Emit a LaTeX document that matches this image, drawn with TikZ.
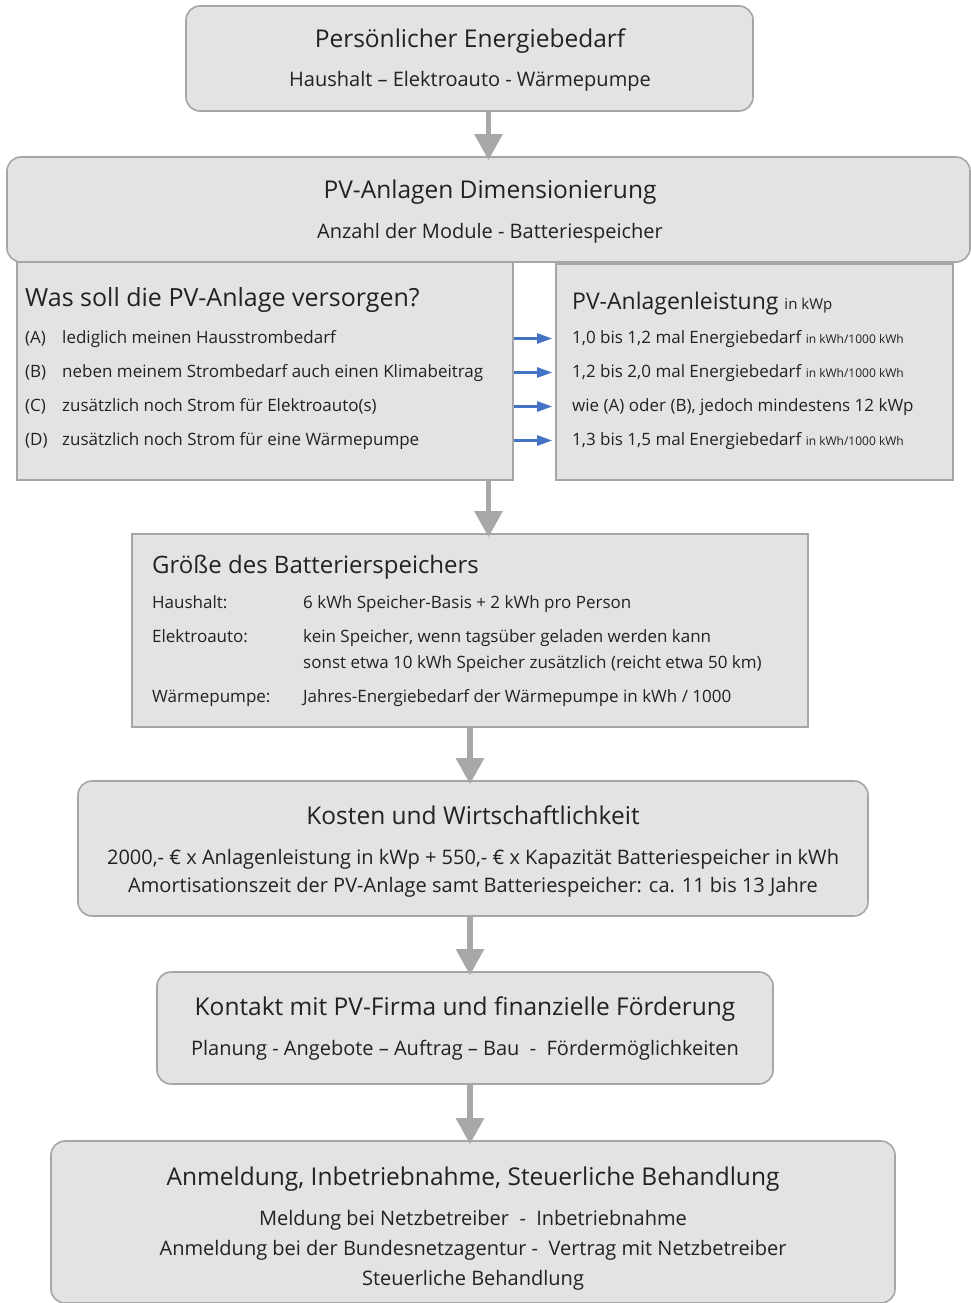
\documentclass[tikz,border=0pt]{standalone}
\usepackage{fontspec}
\setmainfont{Open Sans}
\usepackage{xcolor}
\definecolor{ink}{HTML}{222222}
\definecolor{boxFill}{HTML}{E3E3E3}
\definecolor{boxEdge}{HTML}{A6A6A6}
\definecolor{flowGray}{HTML}{A9A7A7}
\definecolor{flowBlue}{HTML}{4472C4}
\usetikzlibrary{arrows.meta, positioning}

\newcommand{\unitNote}[1]{{\fontsize{12}{14}\selectfont #1}}

\begin{document}
\begin{tikzpicture}[
  x=1pt, y=-1pt,
  every node/.style={text=ink, inner sep=0pt},
  box/.style={rectangle, draw=boxEdge, line width=1.6pt, fill=boxFill},
  roundBox/.style={box, rounded corners=14pt},
  flatBox/.style={box},
  headText/.style={font=\fontsize{24.5}{29}\selectfont, anchor=base},
  subText/.style={font=\fontsize{20}{24}\selectfont, anchor=base},
  listText/.style={font=\fontsize{17}{20}\selectfont, anchor=base west},
  flowArrow/.style={-{Triangle[length=26pt, width=27pt]}, line width=5.5pt, flowGray},
  pickArrow/.style={-{Triangle[length=15pt, width=10pt]}, line width=2.4pt, flowBlue},
]
\useasboundingbox (0,0) rectangle (971,1303);

% ------------------- Energiebedarf -------------------
\node[roundBox, minimum width=567pt, minimum height=105pt] (bedarf) at (469.5,58.5) {};
\node[headText] (bedarfTitle) at (470,48) {Persönlicher Energiebedarf};
\node[subText] (bedarfSub) at (470,87) {Haushalt – Elektroauto - Wärmepumpe};

% ------------------- Dimensionierung -----------------
\node[flatBox, minimum width=496pt, minimum height=218pt] (versorgen) at (265,371) {};
\node[flatBox, minimum width=397pt, minimum height=216pt] (leistung) at (754.5,372) {};
\node[roundBox, minimum width=963pt, minimum height=105pt] (dim) at (488.5,209.5) {};
\node[headText] (dimTitle) at (490,198) {PV-Anlagen Dimensionierung};
\node[subText] (dimSub) at (490,238) {Anzahl der Module - Batteriespeicher};

% left column: what to supply
\node[headText, anchor=base west, font=\fontsize{25}{30}\selectfont] (versorgenTitle) at (25,306) {Was soll die PV-Anlage versorgen?};
\node[listText] (optA) at (25,343.5) {(A)};
\node[listText] (optB) at (25,377.5) {(B)};
\node[listText] (optC) at (25,411.5) {(C)};
\node[listText] (optD) at (25,445.5) {(D)};
\node[listText] (txtA) at (62,343.5) {lediglich meinen Hausstrombedarf};
\node[listText] (txtB) at (62,377.5) {neben meinem Strombedarf auch einen Klimabeitrag};
\node[listText] (txtC) at (62,411.5) {zusätzlich noch Strom für Elektroauto(s)};
\node[listText] (txtD) at (62,445.5) {zusätzlich noch Strom für eine Wärmepumpe};

% right column: resulting power
\node[headText, anchor=base west, font=\fontsize{23}{28}\selectfont] (leistungTitle) at (572,309) {PV-Anlagenleistung {\fontsize{15}{18}\selectfont in kWp}};
\node[listText] (kwpA) at (572,343.5) {1,0 bis 1,2 mal Energiebedarf \unitNote{in kWh/1000 kWh}};
\node[listText] (kwpB) at (572,377.5) {1,2 bis 2,0 mal Energiebedarf \unitNote{in kWh/1000 kWh}};
\node[listText] (kwpC) at (572,411.5) {wie (A) oder (B), jedoch mindestens 12 kWp};
\node[listText] (kwpD) at (572,445.5) {1,3 bis 1,5 mal Energiebedarf \unitNote{in kWh/1000 kWh}};

% option -> power
\foreach \opt in {A,B,C,D}
  \draw[pickArrow] ([yshift=5pt]txt\opt.base -| versorgen.east) -- ([xshift=-3pt,yshift=5pt]txt\opt.base -| leistung.west);

% ------------------- Batteriespeicher ----------------
\node[flatBox, minimum width=676pt, minimum height=193pt] (speicher) at (470,630.5) {};
\node[headText, anchor=base west, font=\fontsize{24}{29}\selectfont] (speicherTitle) at (152,573) {Größe des Batterierspeichers};
\node[listText] (hausLbl) at (152,608) {Haushalt:};
\node[listText] (autoLbl) at (152,642) {Elektroauto:};
\node[listText] (pumpLbl) at (152,702) {Wärmepumpe:};
\node[listText] (hausVal) at (303,608) {6 kWh Speicher-Basis + 2 kWh pro Person};
\node[listText] (autoVal) at (303,642) {kein Speicher, wenn tagsüber geladen werden kann};
\node[listText] (autoVal2) at (303,668) {sonst etwa 10 kWh Speicher zusätzlich (reicht etwa 50 km)};
\node[listText] (pumpVal) at (303,702) {Jahres-Energiebedarf der Wärmepumpe in kWh / 1000};

% ------------------- Kosten --------------------------
\node[roundBox, minimum width=790pt, minimum height=135pt] (kosten) at (473,848.5) {};
\node[headText] (kostenTitle) at (473,824) {Kosten und Wirtschaftlichkeit};
\node[subText] (kostenL1) at (473,864) {2000,- € x Anlagenleistung in kWp + 550,- € x Kapazität Batteriespeicher in kWh};
\node[subText] (kostenL2) at (473,892) {Amortisationszeit der PV-Anlage samt Batteriespeicher: ca. 11 bis 13 Jahre};

% ------------------- Kontakt -------------------------
\node[roundBox, minimum width=616pt, minimum height=112pt] (kontakt) at (465,1028) {};
\node[headText] (kontaktTitle) at (465,1015) {Kontakt mit PV-Firma und finanzielle Förderung};
\node[subText] (kontaktSub) at (465,1055) {Planung - Angebote – Auftrag – Bau\ \ -\ \ Fördermöglichkeiten};

% ------------------- Anmeldung -----------------------
\node[roundBox, minimum width=844pt, minimum height=162pt] (anmeldung) at (473,1222) {};
\node[headText] (anmeldungTitle) at (473,1185) {Anmeldung, Inbetriebnahme, Steuerliche Behandlung};
\node[subText] (anmeldungL1) at (473,1225) {Meldung bei Netzbetreiber\ \ -\ \ Inbetriebnahme};
\node[subText] (anmeldungL2) at (473,1255) {Anmeldung bei der Bundesnetzagentur -\ \ Vertrag mit Netzbetreiber};
\node[subText] (anmeldungL3) at (473,1285) {Steuerliche Behandlung};

% ------------------- main flow -----------------------
\draw[flowArrow] (bedarf.south -| dim.north) -- ([yshift=-4pt]dim.north);
\draw[flowArrow] (versorgen.south -| dim.north) -- ([yshift=-4pt]dim.north |- speicher.north);
\draw[flowArrow] (speicher.south) -- ([yshift=-4pt]speicher.south |- kosten.north);
\draw[flowArrow] (kosten.south -| speicher.south) -- ([yshift=-4pt]speicher.south |- kontakt.north);
\draw[flowArrow] (kontakt.south -| speicher.south) -- ([yshift=-4pt]speicher.south |- anmeldung.north);

\end{tikzpicture}
\end{document}
